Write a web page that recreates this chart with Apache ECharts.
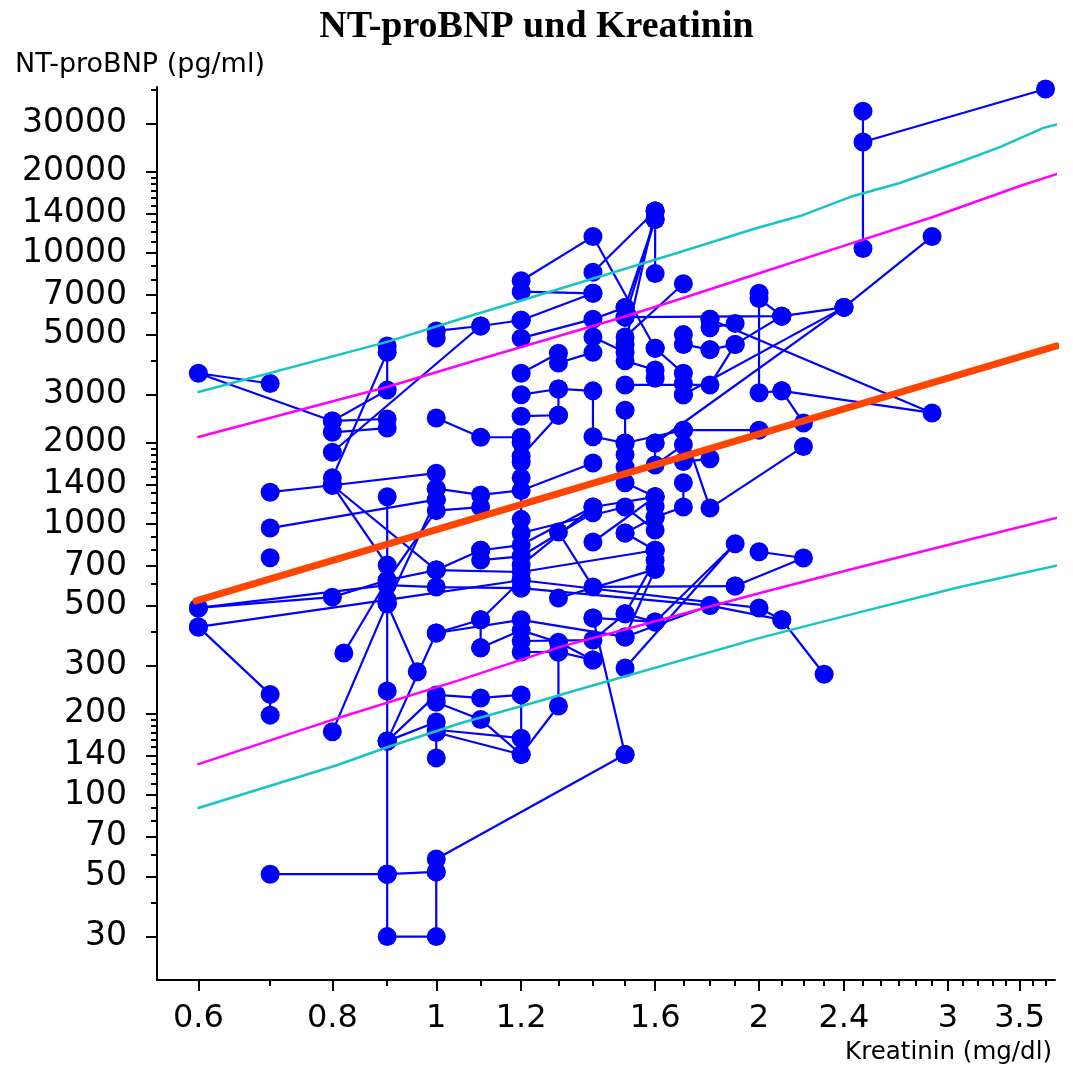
<!DOCTYPE html>
<html><head><meta charset="utf-8">
<script src="https://cdn.jsdelivr.net/npm/echarts@6/dist/echarts.min.js"></script>
<style>html,body{margin:0;padding:0;background:#fff}#c{width:1073px;height:1065px}</style>
</head><body><div id="c"></div>
<script>
// ---- axis ticks (raw data units) ----
const xTickMajor = [0.6, 0.8, 1, 1.2, 1.6, 2, 2.4, 3, 3.5];
const xTickMinor = [0.7, 0.9, 1.1, 1.3, 1.4, 1.5, 1.7, 1.8, 1.9, 2.1, 2.2, 2.3, 2.5, 2.6, 2.7, 2.8, 2.9, 3.1, 3.2, 3.3, 3.4, 3.6, 3.7];
const yTickMajor = [30, 50, 70, 100, 140, 200, 300, 500, 700, 1000, 1400, 2000, 3000, 5000, 7000, 10000, 14000, 20000, 30000];
const yTickMinor = [40, 60, 80, 90, 110, 120, 130, 150, 160, 170, 180, 190, 400, 600, 800, 900,
  1100, 1200, 1300, 1500, 1600, 1700, 1800, 1900, 4000, 6000, 8000, 9000,
  11000, 12000, 13000, 15000, 16000, 17000, 18000, 19000, 40000];
const xRange = [0.549, 3.776];
const yRange = [20.75, 41000];

// ---- patient trajectories [Kreatinin mg/dl, NT-proBNP pg/ml] ----
const trajLeft = [
  [[0.7,3300],[0.6,3600],[0.8,2400],[0.9,3120],[0.9,4540]],
  [[0.8,1480],[0.9,4300]],
  [[0.8,2400],[0.9,2440]],
  [[0.8,2180],[0.9,2260]],
  [[0.8,1840],[1.1,5380],[1.2,5650]],
  [[1.0,4860],[1.0,5160],[1.1,5380]],
  [[1.0,2460],[1.1,2090],[1.2,2090]],
  [[0.7,1310],[0.8,1390],[1.0,1540],[1.0,1350]],
  [[0.7,966],[1.0,1230]],
  [[0.9,1260],[0.9,705],[0.8,1390],[1.0,676]],
  [[0.6,490],[0.8,537],[0.9,620],[1.0,676],[1.1,800]],
  [[0.6,490],[0.9,595],[1.0,585],[1.2,580]],
  [[0.6,417],[0.9,525],[1.2,620]],
  [[0.6,417],[0.7,235],[0.7,197]],
  [[0.82,334],[0.9,620],[1.0,1120],[1.1,1155]],
  [[0.8,171],[0.9,508],[0.96,285]],
  [[0.9,508],[1.0,1230]],
  [[0.9,508],[0.9,242],[0.9,158],[0.9,51],[0.7,51]],
  [[0.9,51],[0.9,30],[1.0,30],[1.0,52],[0.9,51]],
  [[1.0,52],[1.0,58],[1.5,141]]
];
const trajLow = [
  [[0.9,158],[1.0,234],[1.1,228],[1.2,234],[1.2,162],[1.0,174]],
  [[0.9,158],[1.0,186],[1.0,137]],
  [[0.9,158],[1.0,396],[1.1,443],[1.1,349]],
  [[1.0,220],[1.1,190],[1.2,141],[1.3,213],[1.3,337]],
  [[1.0,170],[1.2,141]],
  [[1.4,450],[1.5,141]],
  [[1.1,349],[1.2,405],[1.3,366],[1.4,315]],
  [[1.0,396],[1.2,443],[1.5,383],[1.8,500]],
  [[1.1,443],[1.2,620],[2.0,490],[2.1,443],[2.3,279]],
  [[1.2,580],[1.8,500],[2.1,443]],
  [[1.2,370],[1.4,373],[1.5,466],[1.6,735]],
  [[1.2,337],[1.3,337],[1.4,315]],
  [[1.3,533],[1.6,680],[1.6,800],[1.5,926]],
  [[1.5,294],[1.9,845],[1.6,435],[1.5,466]],
  [[1.5,383],[1.6,680]],
  [[1.9,590],[2.2,749],[2.0,790]],
  [[1.3,934],[1.4,586],[1.9,590]],
  [[1.4,450],[1.6,435]],
  [[1.0,676],[1.2,665],[1.6,800]]
];
const trajMid = [
  [[1.0,1350],[1.1,1280],[1.2,1330],[1.4,1680]],
  [[1.1,800],[1.2,836],[1.4,1155],[1.6,1260]],
  [[1.1,736],[1.2,760],[1.4,1100]],
  [[1.2,3600],[1.3,4270],[1.3,3930],[1.4,4300]],
  [[1.2,3000],[1.3,3150],[1.4,3100],[1.4,2100],[1.5,1990],[1.7,2220],[2.0,2220]],
  [[1.2,2500],[1.3,2520],[1.3,3150]],
  [[1.2,1780],[1.3,2520]],
  [[1.2,2000],[1.2,1690],[1.2,1480],[1.2,1040]],
  [[1.5,2630],[1.5,1990],[1.5,1800],[1.5,1620],[1.5,1420],[1.6,1260],[1.6,1160]],
  [[1.6,1990],[1.6,1650],[1.7,1960],[1.7,1700],[1.8,1740]],
  [[1.7,2220],[1.8,1145],[2.2,1930]],
  [[1.7,1420],[1.7,1155],[1.6,1060]],
  [[1.4,858],[1.6,1260]],
  [[1.2,926],[1.5,1155],[1.6,950]],
  [[1.5,926],[1.6,1060]],
  [[1.2,705],[1.4,1155]]
];
const trajUpper = [
  [[1.2,7900],[1.4,11500],[1.6,4450]],
  [[1.2,7200],[1.4,7100]],
  [[1.2,5650],[1.4,7100]],
  [[1.6,14300],[1.4,8500]],
  [[1.6,14300],[1.6,8400]],
  [[1.6,13300],[1.5,6300]],
  [[1.6,13300],[1.5,5800]],
  [[1.6,14300],[1.5,4600]],
  [[1.2,4850],[1.4,5700],[1.5,6300]],
  [[1.4,4900],[1.5,4300]],
  [[1.5,5800],[2.1,5850],[2.0,6800],[2.0,7100],[2.0,3050],[2.1,3100],[2.2,2360]],
  [[1.7,7700],[1.5,4900]],
  [[1.8,5700],[1.8,5300],[1.9,5500]],
  [[1.8,4400],[1.9,4600],[2.1,5850]],
  [[1.7,5000],[1.7,4600],[1.8,4400]],
  [[1.6,4450],[1.7,3600],[1.7,3300],[1.7,3000]],
  [[1.5,4000],[1.6,3700],[1.6,3450]],
  [[1.5,3260],[1.8,3260],[1.9,4600]],
  [[1.8,5700],[2.9,2570],[2.1,3100]],
  [[2.9,11500],[2.4,6300],[2.1,5850]],
  [[2.4,6300],[1.7,3000]],
  [[2.4,6300],[1.6,1990]],
  [[3.7,40300],[2.5,25700],[2.5,33400],[2.5,10400]]
];
const singles = [[0.7,750]];

// ---- regression line and prediction bands ----
const fitLine = [[0.597,520],[3.79,4540]];
const cyanUpper = [[0.6,3070],[0.9,4700],[1.053,5710],[1.677,10000],[1.991,12370],[2.184,13690],[2.431,16090],[2.706,18140],[3.078,21670],[3.355,24610],[3.679,28930],[3.84,30180]];
const magentaUpper = [[0.6,2094],[0.809,2869],[0.9,3203],[1.076,3961],[1.484,5757],[1.677,6708],[2.004,8440],[2.379,10520],[2.905,13580],[3.524,17820],[3.84,19900]];
const magentaLower = [[0.6,130],[0.809,192],[1.053,266],[1.305,352],[1.617,442],[2.004,556],[2.485,694],[3.078,858],[3.815,1061]];
const cyanLower = [[0.6,89.5],[0.809,129],[0.9,150],[1.053,184],[1.258,224],[1.353,244],[2.004,380],[2.485,473],[3.078,585],[3.815,706]];

// ---- build ----
const L = v => Math.log10(v);
const toLog = arr => arr.map(p => [L(p[0]), L(p[1])]);
const FONT = '"DejaVu Sans", Verdana, sans-serif';
const BLUE = '#0000ff';

const series = [];
[].concat(trajLeft, trajLow, trajMid, trajUpper).forEach(t => {
  series.push({
    type: 'line', data: toLog(t), symbol: 'circle', symbolSize: 19, showSymbol: true,
    itemStyle: { color: BLUE, opacity: 1 }, lineStyle: { color: BLUE, width: 2.2 },
    silent: true, animation: false, z: 2
  });
});
series.push({ type: 'scatter', data: toLog(singles), symbol: 'circle', symbolSize: 19,
  itemStyle: { color: BLUE, opacity: 1 }, silent: true, animation: false, z: 2 });
function curve(data, color, width) {
  return { type: 'line', data: toLog(data), showSymbol: false, symbol: 'none', clip: false,
    lineStyle: { color, width, cap: 'round' }, silent: true, animation: false, z: 5 };
}
series.push(curve(cyanUpper, '#18c4c4', 2.5));
series.push(curve(cyanLower, '#18c4c4', 2.5));
series.push(curve(magentaUpper, '#ff00ff', 2.5));
series.push(curve(magentaLower, '#ff00ff', 2.5));
series.push(curve(fitLine, '#ff4500', 7));

const xMin = L(xRange[0]), xMax = L(xRange[1]);
const yMin = L(yRange[0]), yMax = L(yRange[1]);
const fmtX = v => String(parseFloat(Math.pow(10, v).toPrecision(2)));
const fmtY = v => String(Math.round(Math.pow(10, v)));

const option = {
  backgroundColor: '#ffffff',
  animation: false,
  title: [
    { text: 'NT-proBNP und Kreatinin', left: 'center', top: 3,
      textStyle: { fontFamily: '"Liberation Serif", "Times New Roman", serif', fontWeight: 'bold', fontSize: 38, color: '#000' } },
    { text: 'NT-proBNP (pg/ml)', left: 10, top: 46,
      textStyle: { fontFamily: FONT, fontWeight: 'normal', fontSize: 27, color: '#000' } },
    { text: 'Kreatinin (mg/dl)', right: 16, top: 1035,
      textStyle: { fontFamily: FONT, fontWeight: 'normal', fontSize: 24.5, color: '#000' } }
  ],
  grid: { left: 157, right: 18, top: 87, bottom: 85, containLabel: false },
  xAxis: [
    { type: 'value', min: xMin, max: xMax, position: 'bottom',
      axisLine: { show: true, onZero: false, lineStyle: { color: '#000', width: 2 } },
      axisTick: { show: true, inside: false, length: 11, customValues: xTickMajor.map(L), lineStyle: { color: '#000', width: 2 } },
      axisLabel: { show: true, customValues: xTickMajor.map(L), formatter: fmtX, margin: 23,
        fontFamily: FONT, fontSize: 32, color: '#000' },
      splitLine: { show: false } },
    { type: 'value', min: xMin, max: xMax, position: 'bottom', offset: 0,
      axisLine: { show: false, onZero: false },
      axisTick: { show: true, inside: false, length: 6, customValues: xTickMinor.map(L), lineStyle: { color: '#000', width: 2 } },
      axisLabel: { show: false }, splitLine: { show: false } }
  ],
  yAxis: [
    { type: 'value', min: yMin, max: yMax, position: 'left',
      axisLine: { show: true, onZero: false, lineStyle: { color: '#000', width: 2 } },
      axisTick: { show: true, inside: false, length: 11, customValues: yTickMajor.map(L), lineStyle: { color: '#000', width: 2 } },
      axisLabel: { show: true, customValues: yTickMajor.map(L), formatter: fmtY, margin: 30,
        fontFamily: FONT, fontSize: 33, color: '#000' },
      splitLine: { show: false } },
    { type: 'value', min: yMin, max: yMax, position: 'left', offset: 0,
      axisLine: { show: false, onZero: false },
      axisTick: { show: true, inside: false, length: 6, customValues: yTickMinor.map(L), lineStyle: { color: '#000', width: 2 } },
      axisLabel: { show: false }, splitLine: { show: false } }
  ],
  series: series
};
const chart = echarts.init(document.getElementById('c'), null, { renderer: 'canvas' });
chart.setOption(option);
</script></body></html>
